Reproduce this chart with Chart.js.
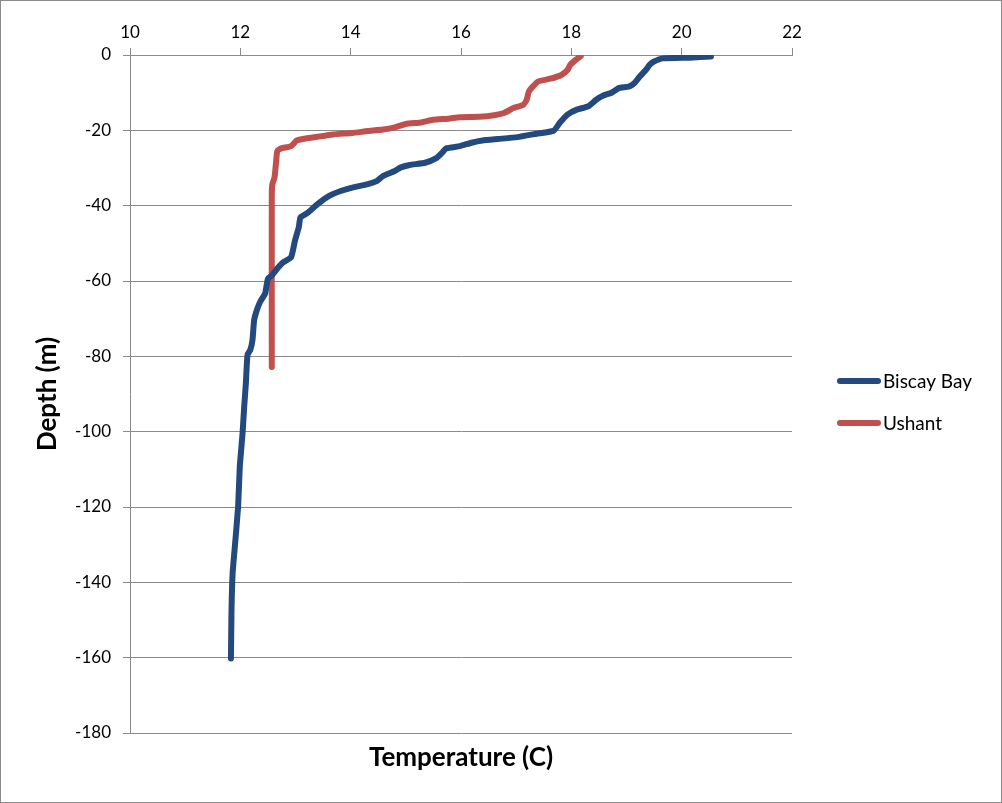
<!DOCTYPE html>
<html>
<head>
<meta charset="utf-8">
<script src="https://cdn.jsdelivr.net/npm/chart.js@4"></script>
<style>
  html, body { margin: 0; padding: 0; background: #fff; }
  #wrap { width: 1002px; height: 803px; position: relative; }
</style>
</head>
<body>
<div id="wrap"><canvas id="profileChart"></canvas></div>
<script>
// values (temperature in C, depth in m)
const biscayTemp = [20.53, 20.15, 19.66, 19.49, 19.42, 19.35, 19.24, 19.14, 19.04, 18.86, 18.72, 18.59, 18.45, 18.31, 18.10, 17.93, 17.79, 17.68, 17.37, 17.02, 16.67, 16.39, 16.19, 15.98, 15.73, 15.66, 15.56, 15.35, 15.07, 14.90, 14.80, 14.59, 14.48, 14.31, 14.03, 13.82, 13.61, 13.40, 13.23, 13.09, 13.06, 12.99, 12.92, 12.78, 12.67, 12.57, 12.50, 12.45, 12.36, 12.30, 12.25, 12.22, 12.18, 12.13, 12.10, 12.07, 12.04, 11.99, 11.96, 11.90, 11.86, 11.84, 11.83];
const biscayDepth = [-0.4, -0.7, -0.9, -1.8, -2.6, -4.0, -5.7, -7.5, -8.4, -8.8, -10.1, -10.7, -11.9, -13.6, -14.5, -15.8, -18.0, -20.1, -20.9, -21.8, -22.3, -22.7, -23.3, -24.2, -24.8, -25.9, -27.3, -28.6, -29.2, -29.9, -30.8, -32.1, -33.4, -34.3, -35.2, -36.1, -37.4, -39.6, -41.8, -43.1, -45.7, -49.3, -53.7, -55.0, -56.7, -58.5, -59.4, -63.3, -65.5, -67.7, -70.4, -75.7, -78.3, -79.6, -87.2, -93.4, -100.5, -109.3, -119.9, -130.6, -137.6, -147.4, -160.2];

const ushantTemp = [18.17, 18.08, 17.98, 17.93, 17.82, 17.62, 17.40, 17.30, 17.23, 17.19, 17.13, 16.95, 16.78, 16.60, 16.33, 15.98, 15.77, 15.49, 15.28, 15.00, 14.80, 14.59, 14.31, 14.03, 13.68, 13.40, 13.13, 13.02, 12.92, 12.74, 12.67, 12.65, 12.62, 12.58, 12.57, 12.57];
const ushantDepth = [-0.3, -1.3, -2.6, -4.0, -5.3, -6.3, -7.0, -8.4, -9.7, -11.9, -13.2, -14.1, -15.4, -16.0, -16.4, -16.5, -16.9, -17.2, -17.9, -18.3, -19.2, -19.8, -20.2, -20.7, -21.1, -21.7, -22.3, -22.7, -24.2, -24.8, -25.5, -28.1, -32.5, -34.3, -37.8, -82.8];

const seriesNames = ['Biscay Bay', 'Ushant'];
const seriesColors = ['#23497f', '#c0504d'];

const tempMin = 10, tempMax = 22, tempStep = 2;
const depthMin = -180, depthMax = 0, depthStep = 20;

const FONT = 'Lato, "Open Sans", sans-serif';
const GRID = '#8a8a8a';

function toPoints(xs, ys) {
    return xs.map((x, i) => ({ x: x, y: ys[i] }));
}

// legend at the right, drawn by hand like the spreadsheet one
const sideLegend = {
    id: 'sideLegend',
    afterDraw(chart) {
        const ctx = chart.ctx;
        ctx.save();
        chart.data.datasets.forEach((ds, i) => {
            const y = 381 + i * 42;
            ctx.strokeStyle = ds.borderColor;
            ctx.lineWidth = 6;
            ctx.lineCap = 'round';
            ctx.beginPath();
            ctx.moveTo(840, y);
            ctx.lineTo(878, y);
            ctx.stroke();
            ctx.fillStyle = '#000';
            ctx.font = '19px ' + FONT;
            ctx.textBaseline = 'middle';
            ctx.fillText(ds.label, 883, y + 1);
        });
        ctx.restore();
    }
};

// thin grey frame around the whole picture
const frame = {
    id: 'frame',
    beforeDraw(chart) {
        const ctx = chart.ctx;
        ctx.save();
        ctx.fillStyle = '#fff';
        ctx.fillRect(0, 0, chart.width, chart.height);
        ctx.strokeStyle = '#8c8c8c';
        ctx.lineWidth = 1;
        ctx.strokeRect(0.5, 0.5, chart.width - 1, chart.height - 1);
        ctx.restore();
    }
};

function initChart() {
    const ctx = document.getElementById('profileChart').getContext('2d');
    new Chart(ctx, {
        type: 'scatter',
        data: {
            datasets: [
                {
                    label: seriesNames[0],
                    data: toPoints(biscayTemp, biscayDepth),
                    borderColor: seriesColors[0],
                    backgroundColor: seriesColors[0],
                    borderWidth: 6,
                    borderCapStyle: 'round',
                    borderJoinStyle: 'round',
                    showLine: true,
                    pointRadius: 0,
                    tension: 0.15
                },
                {
                    label: seriesNames[1],
                    data: toPoints(ushantTemp, ushantDepth),
                    borderColor: seriesColors[1],
                    backgroundColor: seriesColors[1],
                    borderWidth: 6,
                    borderCapStyle: 'round',
                    borderJoinStyle: 'round',
                    showLine: true,
                    pointRadius: 0,
                    tension: 0.15
                }
            ]
        },
        options: {
            responsive: true,
            maintainAspectRatio: false,
            animation: false,
            layout: { padding: { left: 0, top: 0, right: 210, bottom: 0 } },
            plugins: {
                legend: { display: false },
                tooltip: { enabled: false }
            },
            scales: {
                x: {
                    type: 'linear',
                    position: 'top',
                    min: tempMin,
                    max: tempMax,
                    ticks: { stepSize: tempStep, color: '#000', font: { family: FONT, size: 17 }, padding: 5 },
                    grid: { drawOnChartArea: false, drawTicks: true, tickLength: 7, color: GRID },
                    border: { display: true, color: GRID },
                    afterFit: function(scale) { scale.height = 55; }
                },
                x2: {
                    type: 'linear',
                    position: 'bottom',
                    min: tempMin,
                    max: tempMax,
                    ticks: { display: false },
                    grid: { display: false },
                    border: { display: false },
                    title: {
                        display: true,
                        text: 'Temperature (C)',
                        color: '#000',
                        font: { family: FONT, size: 26, weight: 'bold' },
                        padding: { top: 0, bottom: 30 }
                    },
                    afterFit: function(scale) { scale.height = 70; }
                },
                y: {
                    type: 'linear',
                    min: depthMin,
                    max: depthMax,
                    ticks: { stepSize: depthStep, color: '#000', font: { family: FONT, size: 17 }, padding: 12 },
                    grid: { color: GRID, tickLength: 7 },
                    border: { display: true, color: GRID },
                    title: {
                        display: true,
                        text: 'Depth (m)',
                        color: '#000',
                        font: { family: FONT, size: 26, weight: 'bold' },
                        padding: { top: 32, bottom: 0 }
                    },
                    afterFit: function(scale) { scale.width = 130; }
                }
            }
        },
        plugins: [frame, sideLegend]
    });
}

if (document.readyState === 'loading') {
    document.addEventListener('DOMContentLoaded', initChart);
} else {
    initChart();
}
</script>
</body>
</html>
